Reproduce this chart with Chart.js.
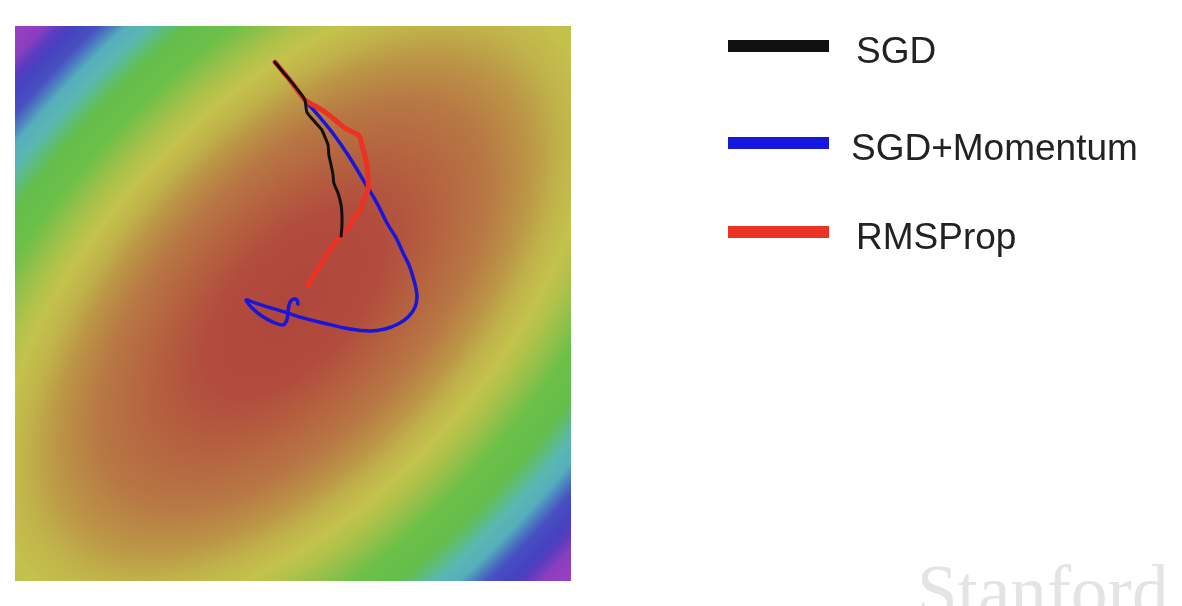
<!DOCTYPE html>
<html>
<head>
  <title>SGD vs Momentum vs RMSProp</title>
  <script src="https://cdn.jsdelivr.net/npm/chart.js"></script>
  <style>
  body { margin: 0; background: #fff; overflow: hidden; }
  #wrap { position: relative; width: 1182px; height: 606px; }
  .swatch { position: absolute; left: 728px; width: 101px; height: 12px; }
  .label {
        position: absolute;
        font-family: "Liberation Sans", Arial, sans-serif;
        font-size: 37px;
        line-height: 37px;
        color: #222;
        white-space: nowrap;
        }
  #stanford {
        position: absolute; left: 917px; top: 555px;
        font-family: "Liberation Serif", "Times New Roman", serif;
        font-size: 73px; line-height: 73px;
        color: #e4e4e4;
        }
</style>
</head>
<body>
  <div id="wrap">
    <canvas id="myChart"></canvas>
    <div id="legend"></div>
    <div id="stanford">Stanford</div>
  </div>
  <script>
    // Trayectorias (ejes normalizados -1..1)
    var sgdX = [-0.065, -0.036, -0.011, 0.018, 0.043, 0.050, 0.079, 0.104, 0.115, 0.126,
                0.129, 0.137, 0.144, 0.147, 0.162, 0.173, 0.176, 0.176, 0.173];
    var sgdY = [0.870, 0.834, 0.805, 0.769, 0.733, 0.690, 0.654, 0.625, 0.600, 0.571,
                0.535, 0.499, 0.463, 0.434, 0.398, 0.355, 0.319, 0.279, 0.243];

    var momX = [-0.065, -0.011, 0.043, 0.090, 0.140, 0.198, 0.259, 0.302, 0.338, 0.371,
                0.396, 0.417, 0.432, 0.442, 0.446, 0.439, 0.414, 0.378, 0.331, 0.277,
                0.205, 0.108, 0.025, -0.029, -0.090, -0.137, -0.169, -0.147, -0.112, -0.072,
                -0.036, -0.022, -0.018, -0.014, -0.004, 0.014, 0.018];
    var momY = [0.870, 0.805, 0.733, 0.679, 0.618, 0.535, 0.434, 0.362, 0.290, 0.236,
                0.182, 0.139, 0.095, 0.056, 0.023, -0.013, -0.049, -0.074, -0.092, -0.099,
                -0.092, -0.070, -0.049, -0.031, -0.013, 0.002, 0.013, -0.016, -0.045, -0.067,
                -0.077, -0.059, -0.031, -0.005, 0.013, 0.013, -0.002];

    var rmsX = [-0.065, -0.011, 0.043, 0.079, 0.115, 0.147, 0.187, 0.223, 0.241, 0.248,
                0.255, 0.266, 0.270, 0.270, 0.255, 0.241, 0.212, 0.187, 0.158, 0.133,
                0.104, 0.079, 0.054];
    var rmsY = [0.870, 0.805, 0.733, 0.712, 0.690, 0.665, 0.632, 0.614, 0.600, 0.571,
                0.546, 0.499, 0.452, 0.409, 0.373, 0.337, 0.294, 0.258, 0.229, 0.193,
                0.146, 0.110, 0.067];

    var etiquetas = ['SGD', 'SGD+Momentum', 'RMSProp'];
    var colores = ['#111111', '#1616dc', '#ec3222'];

    // Superficie de pérdida (elipse rotada) y su escala de colores
    var centroSuperficie = [0, 0];
    var ejesSuperficie = [2.73, 1.414];   // semieje mayor, semieje menor
    var anguloSuperficie = 47;            // grados
    var paradas = [0, 0.15, 0.24, 0.33, 0.40, 0.45, 0.50, 0.54, 0.59, 0.63,
                   0.70, 0.73, 0.76, 0.80, 0.82, 0.85, 0.89, 0.915, 0.945, 1];
    var coloresSuperficie = ['#b0463c', '#b24c3e', '#b5623f', '#b87844', '#bc9646', '#c0b24a',
                             '#c4c24c', '#b0c24a', '#8cc04a', '#6cc048', '#64be4c', '#5ebc7a',
                             '#5ab8b0', '#56aebc', '#4c86c0', '#4850c0', '#4642c0', '#5a3cc0',
                             '#8a3ec0', '#9c40c0'];

    function puntos(xs, ys) {
      var p = [];
      for (var i = 0; i < xs.length; i++) p.push({x: xs[i], y: ys[i]});
      return p;
    }

    var fondo = {
      id: 'fondo',
      beforeDatasetsDraw: function(chart) {
        var ctx = chart.ctx, a = chart.chartArea;
        var sx = chart.scales.x, sy = chart.scales.y;
        var cx = sx.getPixelForValue(centroSuperficie[0]);
        var cy = sy.getPixelForValue(centroSuperficie[1]);
        var unidad = ((sx.getPixelForValue(1) - sx.getPixelForValue(0)) +
                      (sy.getPixelForValue(0) - sy.getPixelForValue(1))) / 2;
        var menor = ejesSuperficie[1] * unidad;
        ctx.save();
        ctx.beginPath();
        ctx.rect(a.left, a.top, a.right - a.left, a.bottom - a.top);
        ctx.clip();
        ctx.translate(cx, cy);
        ctx.rotate(-anguloSuperficie * Math.PI / 180);
        ctx.scale(ejesSuperficie[0] / ejesSuperficie[1], 1);
        var g = ctx.createRadialGradient(0, 0, 0, 0, 0, menor);
        for (var i = 0; i < paradas.length; i++) g.addColorStop(paradas[i], coloresSuperficie[i]);
        ctx.fillStyle = g;
        ctx.fillRect(-2000, -2000, 4000, 4000);
        ctx.restore();
      }
    };

    var ctx = document.getElementById('myChart').getContext('2d');
    new Chart(ctx, {
      type: 'scatter',
      data: {
        datasets: [
          { label: etiquetas[0], data: puntos(sgdX, sgdY), borderColor: colores[0],
            borderWidth: 3, tension: 0.2, order: 1 },
          { label: etiquetas[1], data: puntos(momX, momY), borderColor: colores[1],
            borderWidth: 3.5, tension: 0.4, order: 3 },
          { label: etiquetas[2], data: puntos(rmsX, rmsY), borderColor: colores[2],
            borderWidth: 5, tension: 0.2, order: 2 }
        ].map(function(d) {
          d.showLine = true;
          d.pointRadius = 0;
          d.borderCapStyle = 'round';
          d.borderJoinStyle = 'round';
          d.fill = false;
          return d;
        })
      },
      options: {
        responsive: true,
        maintainAspectRatio: false,
        animation: false,
        events: [],
        layout: { padding: { left: 15, top: 26, right: 611, bottom: 25 } },
        plugins: { legend: { display: false }, tooltip: { enabled: false } },
        scales: {
          x: { type: 'linear', min: -1, max: 1, display: false },
          y: { type: 'linear', min: -1, max: 1, display: false }
        }
      },
      plugins: [fondo]
    });

    // Leyenda a la derecha
    var filaY = [46, 143, 232];
    var textoX = [856, 851, 856];
    var leyenda = document.getElementById('legend');
    for (var i = 0; i < etiquetas.length; i++) {
      var s = document.createElement('div');
      s.className = 'swatch';
      s.style.top = (filaY[i] - 6) + 'px';
      s.style.background = colores[i];
      leyenda.appendChild(s);
      var t = document.createElement('div');
      t.className = 'label';
      t.style.left = textoX[i] + 'px';
      t.style.top = (filaY[i] - 14) + 'px';
      t.textContent = etiquetas[i];
      leyenda.appendChild(t);
    }
  </script>
</body>
</html>
